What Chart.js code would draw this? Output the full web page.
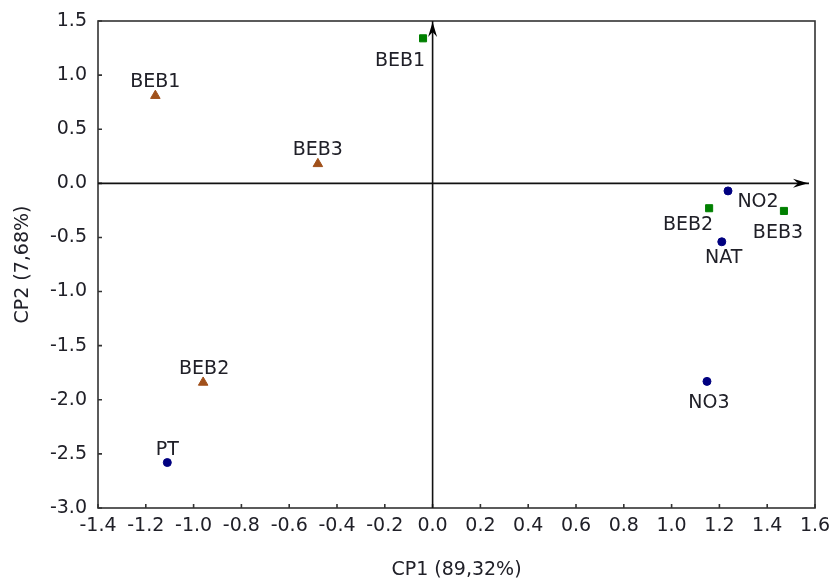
<!DOCTYPE html>
<html>
<head>
<meta charset="utf-8">
<script src="https://cdn.jsdelivr.net/npm/chart.js@4"></script>
<style>
html,body{margin:0;padding:0;background:#fff;}
#wrap{width:832px;height:579px;}
</style>
</head>
<body>
<div id="wrap"><canvas id="c" width="832" height="579"></canvas></div>
<script>
// ---- data ----
const xTitle = "CP1 (89,32%)";
const yTitle = "CP2 (7,68%)";
const xTicks = [-1.4,-1.2,-1.0,-0.8,-0.6,-0.4,-0.2,0.0,0.2,0.4,0.6,0.8,1.0,1.2,1.4,1.6];
const yTicks = [-3.0,-2.5,-2.0,-1.5,-1.0,-0.5,0.0,0.5,1.0,1.5];

const triLabels = ["BEB1","BEB3","BEB2"];
const triX = [-1.16,-0.48,-0.96];
const triY = [0.81,0.18,-1.84];

const sqLabels = ["BEB1","BEB2","BEB3"];
const sqX = [-0.04,1.157,1.47];
const sqY = [1.34,-0.23,-0.255];

const dotLabels = ["NO2","NAT","NO3","PT"];
const dotX = [1.236,1.21,1.148,-1.11];
const dotY = [-0.07,-0.54,-1.83,-2.58];

// ---- label placement (style only, px offsets relative to the point) ----
const triOffsets = [[0,-14],[0,-14],[1,-13]];
const sqOffsets = [[-23,23],[-21,17],[-6,22]];
const dotOffsets = [[30,11],[2,16],[2,22],[0,-12]];

function pts(xs, ys){ return xs.map((x,i)=>({x:x,y:ys[i]})); }

const FONT = "'DejaVu Sans', sans-serif";
const TXT = '#202028';

const framePlugin = {
  id:'frame',
  afterDraw(chart){
    const ctx = chart.ctx, a = chart.chartArea;
    const xs = chart.scales.x, ys = chart.scales.y;
    ctx.save();
    // frame
    ctx.strokeStyle = '#333';
    ctx.lineWidth = 1.6;
    ctx.strokeRect(a.left, a.top, a.right-a.left, a.bottom-a.top);
    // inward ticks
    ctx.beginPath();
    xTicks.forEach(v=>{ const p = xs.getPixelForValue(v); ctx.moveTo(p,a.bottom); ctx.lineTo(p,a.bottom-4); });
    yTicks.forEach(v=>{ const p = ys.getPixelForValue(v); ctx.moveTo(a.left,p); ctx.lineTo(a.left+4,p); });
    ctx.stroke();
    // zero axes with arrows
    const x0 = xs.getPixelForValue(0), y0 = ys.getPixelForValue(0);
    ctx.strokeStyle = '#111'; ctx.fillStyle = '#000'; ctx.lineWidth = 1.6;
    ctx.beginPath();
    ctx.moveTo(x0, a.bottom); ctx.lineTo(x0, a.top);
    ctx.moveTo(a.left, y0); ctx.lineTo(a.right-6, y0);
    ctx.stroke();
    // up arrow
    ctx.beginPath();
    ctx.moveTo(x0, a.top+1); ctx.lineTo(x0-4.5, a.top+16); ctx.lineTo(x0, a.top+11); ctx.lineTo(x0+4.5, a.top+16); ctx.closePath();
    ctx.fill();
    // right arrow
    const ax = a.right-7;
    ctx.beginPath();
    ctx.moveTo(ax, y0); ctx.lineTo(ax-15, y0-4.5); ctx.lineTo(ax-10, y0); ctx.lineTo(ax-15, y0+4.5); ctx.closePath();
    ctx.fill();
    // point labels
    ctx.font = "19px " + FONT;
    ctx.fillStyle = TXT;
    ctx.textAlign = 'center'; ctx.textBaseline = 'middle';
    const sets = [[0,triLabels,triOffsets],[1,sqLabels,sqOffsets],[2,dotLabels,dotOffsets]];
    sets.forEach(([di,labs,offs])=>{
      const meta = chart.getDatasetMeta(di);
      meta.data.forEach((el,i)=>{
        ctx.fillText(labs[i], el.x+offs[i][0], el.y+offs[i][1]);
      });
    });
    ctx.restore();
  }
};

new Chart(document.getElementById('c'), {
  type:'scatter',
  data:{
    datasets:[
      {data:pts(triX,triY), pointStyle:'triangle', pointRadius:5.5, backgroundColor:'#a0501a', borderColor:'#a0501a', borderWidth:1},
      {data:pts(sqX,sqY), pointStyle:'rect', pointRadius:5, backgroundColor:'#008000', borderColor:'#008000', borderWidth:1},
      {data:pts(dotX,dotY), pointStyle:'circle', pointRadius:4, backgroundColor:'#000080', borderColor:'#000080', borderWidth:1}
    ]
  },
  options:{
    responsive:false,
    animation:false,
    events:[],
    layout:{padding:{top:21,right:17,left:0,bottom:0}},
    plugins:{legend:{display:false}, tooltip:{enabled:false}},
    scales:{
      x:{
        type:'linear', min:-1.4, max:1.6,
        afterBuildTicks(s){ s.ticks = xTicks.map(v=>({value:v})); },
        afterFit(s){ s.height = 71; s.paddingRight = 0; s.paddingLeft = 0; },
        grid:{display:false, drawTicks:false},
        border:{display:false},
        ticks:{padding:7, color:TXT, font:{family:FONT,size:19}, maxRotation:0, autoSkip:false,
          callback:(v)=>Number(v).toFixed(1)},
        title:{display:true, text:xTitle, color:TXT, font:{family:FONT,size:19}, padding:{top:0,bottom:-2}}
      },
      y:{
        type:'linear', min:-3.0, max:1.5,
        afterBuildTicks(s){ s.ticks = yTicks.map(v=>({value:v})); },
        afterFit(s){ s.width = 98; s.paddingTop = 0; s.paddingBottom = 0; },
        grid:{display:false, drawTicks:false},
        border:{display:false},
        ticks:{padding:11, color:TXT, font:{family:FONT,size:19}, autoSkip:false,
          callback:(v)=>Number(v).toFixed(1)},
        title:{display:true, text:yTitle, color:TXT, font:{family:FONT,size:19}, padding:{top:12,bottom:0}}
      }
    }
  },
  plugins:[framePlugin]
});
</script>
</body>
</html>
